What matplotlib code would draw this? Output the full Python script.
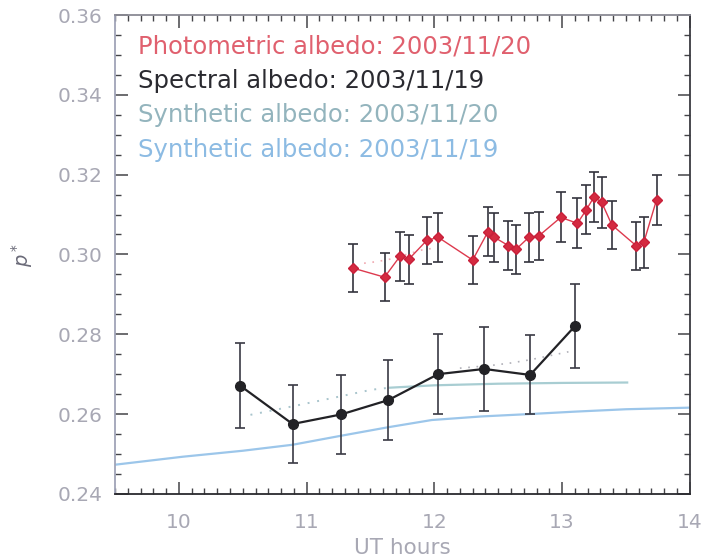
import numpy as np
import matplotlib
matplotlib.use('Agg')
import matplotlib.pyplot as plt
from matplotlib.ticker import MultipleLocator, FormatStrFormatter

# photometric albedo 2003/11/20 (red)
t_phot = [11.36, 11.61, 11.73, 11.80, 11.94, 12.03, 12.30, 12.42, 12.47, 12.58, 12.64,
          12.74, 12.82, 12.99, 13.12, 13.19, 13.25, 13.31, 13.39, 13.58, 13.64, 13.74]
p_phot = [0.2966, 0.2943, 0.2995, 0.2988, 0.3035, 0.3043, 0.2986, 0.3057, 0.3043, 0.3022, 0.3013,
          0.3043, 0.3047, 0.3093, 0.3078, 0.3112, 0.3144, 0.3131, 0.3074, 0.3022, 0.3030, 0.3137]
e_phot = [0.0061, 0.0060, 0.0061, 0.0061, 0.0060, 0.0061, 0.0060, 0.0061, 0.0061, 0.0061, 0.0061,
          0.0061, 0.0060, 0.0063, 0.0063, 0.0062, 0.0063, 0.0064, 0.0061, 0.0060, 0.0063, 0.0063]

# spectral albedo 2003/11/19 (black)
t_spec = [10.48, 10.89, 11.27, 11.64, 12.03, 12.39, 12.75, 13.10]
p_spec = [0.2671, 0.2575, 0.2599, 0.2635, 0.2700, 0.2713, 0.2698, 0.2820]
e_spec = [0.0107, 0.0097, 0.0098, 0.0100, 0.0100, 0.0105, 0.0099, 0.0105]

# synthetic albedo 2003/11/20 (teal): dotted part, then solid
t_syn20_dot = [10.56, 10.9, 11.2, 11.51, 11.65]
p_syn20_dot = [0.2598, 0.2620, 0.2640, 0.2661, 0.2666]
t_syn20 = [11.65, 12.0, 12.5, 13.0, 13.51]
p_syn20 = [0.2666, 0.2672, 0.2676, 0.2678, 0.2679]

# synthetic albedo 2003/11/19 (blue)
t_syn19 = [9.5, 10.03, 10.5, 10.89, 11.26, 11.64, 11.98, 12.37, 12.75, 13.1, 13.5, 14.0]
p_syn19 = [0.2473, 0.2493, 0.2508, 0.2523, 0.2545, 0.2567, 0.2585, 0.2594, 0.2600, 0.2606, 0.2612, 0.2616]

# faint dotted guides
t_gray_dot = [12.2, 12.45, 12.6, 12.75, 13.05]
p_gray_dot = [0.2715, 0.2722, 0.2728, 0.2736, 0.2756]
t_pink_dot = [11.45, 11.55, 11.65, 11.9, 12.0]
p_pink_dot = [0.2978, 0.2982, 0.2988, 0.3011, 0.3016]

labels = ['Photometric albedo: 2003/11/20', 'Spectral albedo: 2003/11/19',
          'Synthetic albedo: 2003/11/20', 'Synthetic albedo: 2003/11/19']
label_colors = ['#e0606e', '#2a2a30', '#93b4bd', '#8cbbe3']

fig = plt.figure(figsize=(7.06, 5.58), dpi=100)
ax = fig.add_axes([0.163, 0.115, 0.814, 0.858])

ax.plot(t_syn19, p_syn19, color='#9cc6ea', lw=1.6)
ax.plot(t_syn20, p_syn20, color='#a8cdd2', lw=1.6)
ax.plot(t_syn20_dot, p_syn20_dot, color='#a8c4cc', lw=1.4, ls=(0, (1, 4)))
ax.plot(t_gray_dot, p_gray_dot, color='#b0b0b8', lw=1.2, ls=(0, (1, 4)))
ax.plot(t_pink_dot, p_pink_dot, color='#f0a8b0', lw=1.2, ls=(0, (1, 4)))

ax.errorbar(t_spec, p_spec, yerr=e_spec, fmt='none', ecolor='#3a3a44', elinewidth=1.2, capsize=3.5, capthick=1.2)
ax.plot(t_spec, p_spec, color='#222226', lw=1.6, marker='o', ms=7)

ax.errorbar(t_phot, p_phot, yerr=e_phot, fmt='none', ecolor='#33333d', elinewidth=1.2, capsize=3.5, capthick=1.2)
ax.plot(t_phot, p_phot, color='#dd3a4e', lw=1.0, marker='D', ms=5, mec='#c8203a', mfc='#d42a40')

ax.set_xlim(9.5, 14.0)
ax.set_ylim(0.24, 0.36)
ax.xaxis.set_major_locator(MultipleLocator(1))
ax.xaxis.set_minor_locator(MultipleLocator(0.1))
ax.yaxis.set_major_locator(MultipleLocator(0.02))
ax.yaxis.set_minor_locator(MultipleLocator(0.005))
ax.yaxis.set_major_formatter(FormatStrFormatter('%.2f'))
ax.tick_params(which='both', direction='in', top=True, right=True, colors='#444448',
               labelcolor='#a8a8b4', labelsize=14.5)
ax.tick_params(axis='y', pad=9)
ax.tick_params(axis='x', pad=14)
ax.tick_params(which='major', length=9, width=1.1)
ax.tick_params(which='minor', length=4, width=1.0)

for side, c in [('left', '#a0a4b8'), ('top', '#8a8a94'), ('bottom', '#2a2a2e'), ('right', '#3a3a40')]:
    ax.spines[side].set_color(c)
    ax.spines[side].set_linewidth(1.3)

ax.set_xlabel('UT hours', color='#a8a8b4', fontsize=15.5, labelpad=4)
ax.set_ylabel(r'$p^*$', color='#6a6a78', fontsize=14, labelpad=16)

for i, (txt, col) in enumerate(zip(labels, label_colors)):
    ax.text(0.04, 0.935 - i * 0.072, txt, transform=ax.transAxes, color=col,
            fontsize=17.5, va='center', ha='left')

fig.savefig('out.png', dpi=100)
